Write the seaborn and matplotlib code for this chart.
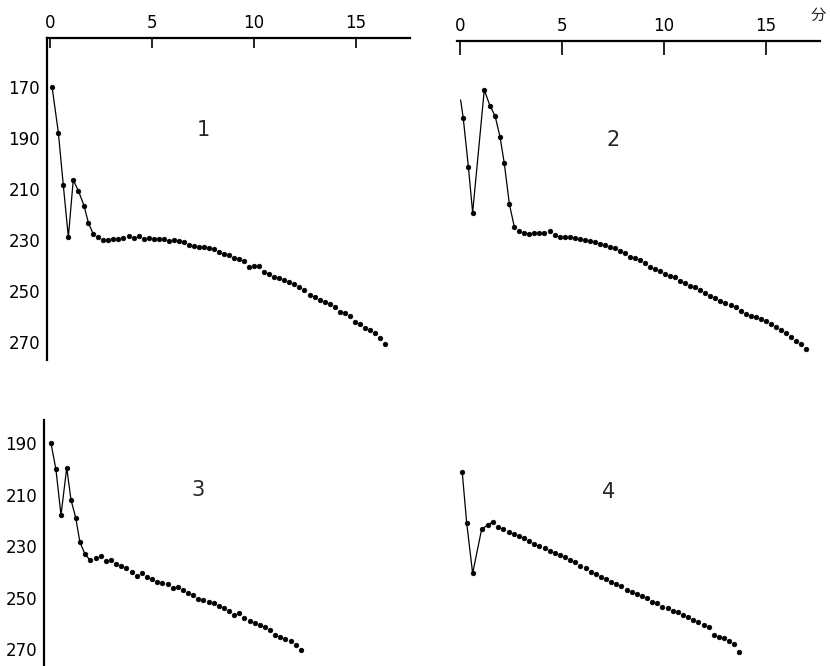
import numpy as np
import pandas as pd
import matplotlib
matplotlib.use("Agg")
import matplotlib.pyplot as plt
import seaborn as sns

sns.set_style("white")
plt.rcParams['font.family'] = ['DejaVu Sans', 'Noto Sans CJK JP']

# Kurve 1: verbundene Anfangspunkte + punktierter Verlauf (Minuten / Wert)
t1_line = [0.1, 0.41, 0.65, 0.9, 1.14, 1.39, 1.67, 1.88, 2.12]
v1_line = [170, 188, 208.5, 229, 206.6, 210.8, 216.7, 223.3, 227.8]
t1_start, t1_step = 2.37, 0.2465
v1_dots = [229.1, 230.1, 230.1, 229.7, 229.6, 229.3, 228.6, 229.3, 228.6, 229.6,
           229.3, 229.6, 229.6, 229.9, 230.4, 230.1, 230.7, 230.9, 232.0, 232.5,
           232.7, 233.0, 233.4, 233.8, 234.7, 235.6, 235.9, 237.2, 237.7, 238.2,
           240.6, 240.3, 240.3, 242.5, 243.5, 244.5, 245.2, 245.8, 246.5, 247.4,
           248.7, 249.7, 251.7, 252.6, 253.7, 254.3, 255.2, 256.3, 258.2, 258.9,
           259.9, 262.2, 263.1, 264.8, 265.4, 266.7, 268.7, 270.9]

# Kurve 2 (erster Linienpunkt ohne Marker)
t2_line = [0.03, 0.16, 0.41, 0.62, 1.19, 1.47, 1.72, 1.96, 2.17, 2.42, 2.66]
v2_line = [175.2, 182.4, 201.4, 219.4, 171.3, 177.5, 181.5, 189.6, 200.0, 216.0, 224.9]
t2_start, t2_step = 2.91, 0.2465
v2_dots = [226.5, 227.5, 227.8, 227.5, 227.3, 227.5, 226.5, 228.2, 229.1, 229.1,
           228.8, 229.3, 229.6, 230.1, 230.7, 230.9, 231.7, 232.0, 233.0, 233.4,
           234.3, 235.4, 236.9, 237.3, 238.0, 239.3, 240.6, 241.6, 242.2, 243.5,
           244.2, 244.8, 246.1, 247.1, 248.2, 248.7, 249.7, 251.0, 252.1, 253.0,
           253.9, 255.0, 255.6, 256.3, 257.8, 259.2, 259.9, 260.5, 261.2, 261.8,
           263.1, 264.1, 265.4, 266.5, 268.0, 269.6, 270.9, 273.0]

# Kurve 3
t3_line = [0.05, 0.29, 0.54, 0.82, 1.03, 1.26, 1.47, 1.72, 1.96]
v3_line = [190, 200.1, 217.9, 199.5, 212.0, 218.9, 228.5, 233.1, 235.3]
t3_start, t3_step = 2.24, 0.2515
v3_dots = [234.4, 233.8, 235.6, 235.3, 236.9, 237.7, 238.3, 239.9, 241.6, 240.3,
           242.1, 242.8, 243.8, 244.1, 244.8, 246.1, 245.7, 247.0, 248.3, 248.9,
           250.6, 250.9, 251.5, 252.2, 253.2, 254.1, 255.0, 256.7, 256.1, 258.0,
           259.0, 259.9, 260.6, 261.5, 262.5, 264.5, 265.4, 266.2, 266.7, 268.4,
           270.3]

# Kurve 4
t4_line = [0.11, 0.33, 0.62, 1.06, 1.36, 1.63]
v4_line = [201.3, 221.1, 240.5, 223.4, 221.7, 220.4]
t4_start, t4_step = 1.88, 0.2515
v4_dots = [222.4, 223.4, 224.3, 225.2, 226.0, 226.9, 227.8, 229.1, 229.9, 230.8,
           231.7, 232.5, 233.4, 234.3, 235.3, 236.0, 237.6, 238.5, 239.8, 240.7,
           241.8, 242.8, 243.7, 244.6, 245.4, 247.0, 247.6, 248.5, 249.5, 250.2,
           251.5, 252.1, 253.4, 254.1, 255.0, 255.4, 256.7, 257.3, 258.6, 259.6,
           260.6, 261.5, 264.4, 265.1, 265.7, 266.6, 267.9, 270.9]

x_ticks = [0, 5, 10, 15]
y_ticks_top = [170, 190, 210, 230, 250, 270]
y_ticks_bottom = [190, 210, 230, 250, 270]

W, H = 830, 666
fig = plt.figure(figsize=(W / 100, H / 100), dpi=100)


def add_ax(left, right, top, bottom):
    return fig.add_axes([left / W, 1 - bottom / H, (right - left) / W, (bottom - top) / H])


def draw_curve(ax, t_line, v_line, start, step, v_dots, skip_first=False):
    t_dots = start + step * np.arange(len(v_dots))
    sns.lineplot(x=t_line, y=v_line, ax=ax, color='black', linewidth=0.9,
                 estimator=None, sort=False)
    first = 1 if skip_first else 0
    pts = pd.DataFrame({'t': list(t_line[first:]) + list(t_dots),
                        'v': list(v_line[first:]) + list(v_dots)})
    sns.scatterplot(data=pts, x='t', y='v', ax=ax, color='black', s=11,
                    edgecolor='black', linewidth=0.5)
    ax.set_xlabel('')
    ax.set_ylabel('')


ax1 = add_ax(47, 410, 38, 360)
ax2 = add_ax(457, 820, 41, 360)
ax3 = add_ax(44, 410, 420, 666)
ax4 = add_ax(457, 820, 420, 666)

draw_curve(ax1, t1_line, v1_line, t1_start, t1_step, v1_dots)
draw_curve(ax2, t2_line, v2_line, t2_start, t2_step, v2_dots, skip_first=True)
draw_curve(ax3, t3_line, v3_line, t3_start, t3_step, v3_dots)
draw_curve(ax4, t4_line, v4_line, t4_start, t4_step, v4_dots)

ax1.set_xlim(-0.147, 17.65)
ax1.set_ylim(277.2, 150.9)
ax2.set_xlim(-0.147, 17.65)
ax2.set_ylim(277.2, 152.1)
ax3.set_xlim(-0.294, 17.65)
ax3.set_ylim(276.5, 180.95)
ax4.set_xlim(-0.147, 17.65)
ax4.set_ylim(276.5, 180.95)

for ax in [ax1, ax2, ax3, ax4]:
    ax.set_facecolor('none')
    for s in ax.spines.values():
        s.set_visible(False)
        s.set_linewidth(1.6)
        s.set_color('black')
    ax.set_xticks([])
    ax.set_yticks([])

# obere Zeitachsen
for ax, tl in [(ax1, 7), (ax2, 10)]:
    ax.spines['top'].set_visible(True)
    ax.xaxis.set_ticks_position('top')
    ax.set_xticks(x_ticks)
    ax.tick_params(axis='x', direction='in', length=tl, width=1.2, pad=4,
                   labelsize=12, colors='black')

# linke Wertachsen
for ax, ticks in [(ax1, y_ticks_top), (ax3, y_ticks_bottom)]:
    ax.spines['left'].set_visible(True)
    ax.set_yticks(ticks)
    ax.tick_params(axis='y', direction='in', length=7, width=1.0, pad=5,
                   labelsize=12, colors='black')

# Kurvennummern
ax1.text(7.5, 187, '1', fontsize=15, ha='center', va='center')
ax2.text(7.5, 191, '2', fontsize=15, ha='center', va='center')
ax3.text(7.25, 208, '3', fontsize=15, ha='center', va='center')
ax4.text(7.3, 209, '4', fontsize=15, ha='center', va='center')

fig.text(818 / W, 1 - 15 / H, '分', fontsize=11, ha='center', va='center',
         family=['Noto Sans CJK JP', 'DejaVu Sans'])

fig.savefig('out.png', dpi=100)
